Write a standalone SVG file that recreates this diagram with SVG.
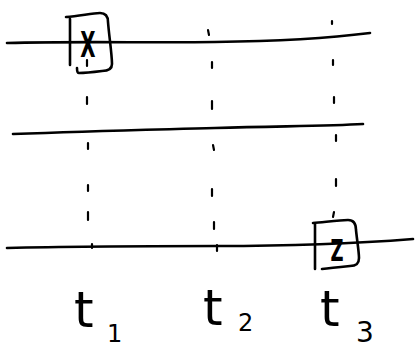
<svg xmlns="http://www.w3.org/2000/svg" width="417" height="350" viewBox="0 0 417 350">
<style>
.ln{fill:none;stroke:#000;stroke-width:2.6;stroke-linecap:round;stroke-linejoin:round}
.ds{fill:none;stroke:#000;stroke-width:2.2;stroke-linecap:round}
.lbl{font-family:"DejaVu Sans","Liberation Sans",sans-serif;fill:#000}
.bx{font-weight:bold}
</style>
<rect width="417" height="350" fill="#fff"/>
<g id="timelines">
<path class="ln" d="M7,43 C80,41 150,43 215,42 C290,41 330,38 370,33"/>
<path class="ln" d="M13,134 C90,131 140,130 215,128 C290,126 330,126 363,124"/>
<path class="ln" d="M7,248 C80,246 150,246 217,246 C300,246 350,244 413,239"/>
</g>
<g id="connectors">
<path class="ds" d="M87,60 v6 M87,97 v7 M88,143 v6 M88,185 v6 M88,212 v8 M92,244 v4"/>
<path class="ds" d="M208,30 l1,5 M212,62 v6 M212,101 v8 M213,145 l1,5 M212,189 v7 M214,222 v7 M217,245 v6"/>
<path class="ds" d="M332,21 v3 M333,60 v5 M334,97 v6 M336,135 v6 M336,179 v7 M334,212 l-1,5"/>
</g>
<g id="node-x">
<path class="ln" d="M70,19 V65 M66,17 C80,16 92,13 100,13 C106,13 108,17 108,22 C109,35 112,55 112,64 C112,69 108,71 102,71 C94,72 84,73 79,73 C77,73 77,70 77,68"/>
<text class="lbl bx" x="88" y="57" font-size="36" text-anchor="middle" transform="translate(88,0) scale(0.55,1) translate(-88,0)">X</text>
</g>
<g id="node-z">
<path class="ln" d="M315,224 V269 M313,223 C325,222 340,220 348,220 C354,220 356,224 356,230 C357,240 359,252 359,258 C359,264 356,266 350,266 C340,267 330,268 322,269"/>
<text class="lbl bx" x="337" y="261" font-size="30" text-anchor="middle" transform="translate(337,0) scale(0.6,1) translate(-337,0)">Z</text>
</g>
<g id="labels">
<text class="lbl" x="74" y="327" font-size="50">t</text>
<text class="lbl" x="107" y="342" font-size="24">1</text>
<text class="lbl" x="203" y="325" font-size="50">t</text>
<text class="lbl" x="238" y="331" font-size="24">2</text>
<text class="lbl" x="320" y="326" font-size="50">t</text>
<text class="lbl" x="356" y="342" font-size="28">3</text>
</g>
</svg>
